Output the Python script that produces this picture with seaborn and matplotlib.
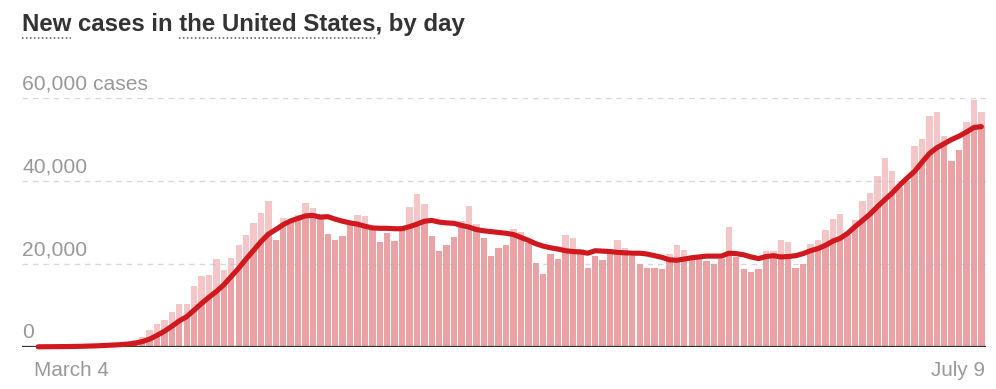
import numpy as np
import pandas as pd
import matplotlib
matplotlib.use("Agg")
import matplotlib.pyplot as plt
import matplotlib.transforms as mtransforms
from matplotlib.lines import Line2D
import seaborn as sns

# ---------------- data ----------------
x_labels = ["March 4", "July 9"]
new_cases = [
    30, 60, 60, 100, 110, 170, 290, 370, 480, 580, 700, 900, 1000, 1600,
    2500, 4000, 5550, 6500, 8500, 10450, 10450, 14700, 17000, 17350, 21100, 18600,
    21500, 24500, 27100, 29800, 32400, 35200, 25700, 31000, 30200, 31800, 34800, 33500,
    30800, 27200, 25800, 26750, 29600, 31700, 31600, 28350, 25400, 27400, 25550, 28200,
    33800, 36900, 34450, 26750, 23200, 24650, 26600, 30400, 34050, 29550, 26200, 21900,
    23800, 24600, 28500, 27700, 25000, 20300, 17600, 22300, 21100, 27000, 26300, 23600,
    19000, 21850, 21000, 23500, 25800, 23800, 21900, 20000, 19100, 18950, 18800, 22500,
    24600, 23400, 21350, 21600, 20800, 20000, 21300, 28800, 21800, 18700, 18150, 18800,
    23150, 23200, 25700, 25300, 19100, 20000, 24900, 25700, 28100, 30850, 32050, 27000,
    30500, 35100, 37100, 41300, 45500, 42400, 38500, 40000, 48400, 50100, 55700, 56700,
    50800, 44800, 47400, 54200, 59600, 56600,
]
avg_7day = [
    50, 60, 70, 90, 110, 140, 180, 230, 290, 370, 460, 560, 700, 900,
    1300, 1900, 2800, 3800, 5000, 6300, 7300, 8900, 10500, 12000, 13400, 15000,
    17000, 19000, 21200, 23300, 25400, 27200, 28300, 29500, 30400, 31000, 31600, 31700,
    31300, 31400, 30800, 30300, 29900, 29600, 29100, 28700, 28600, 28600, 28500, 28500,
    29000, 29600, 30300, 30500, 30100, 29900, 29800, 29300, 28900, 28300, 28000, 27800,
    27600, 27400, 27100, 26400, 25700, 24900, 24300, 23900, 23600, 23200, 23000, 22900,
    22600, 23200, 23100, 23000, 22800, 22700, 22600, 22600, 22400, 22000, 21600, 21000,
    20900, 21200, 21500, 21700, 21900, 21900, 21900, 22600, 22500, 22200, 21700, 21300,
    21800, 22000, 21700, 21800, 22000, 22500, 23200, 23700, 24500, 25500, 26200, 27400,
    29000, 30500, 32000, 33800, 35500, 37100, 39000, 40700, 42300, 44500, 46600, 48000,
    49000, 50000, 50800, 51800, 52900, 53100,
]
y_ticks = [0, 20000, 40000, 60000]
y_tick_labels = ["0", "20,000", "40,000", "60,000 cases"]
title_parts = ["New", " cases in ", "the United States", ", by day"]
underlined = [True, False, True, False]

assert len(new_cases) == len(avg_7day) == 128
n = len(new_cases)
df = pd.DataFrame({"day": np.arange(n), "cases": new_cases, "avg": avg_7day})

# ---------------- style ----------------
LIGHT = "#f5c6c8"
DARK = "#eaa2a5"
RED = "#d0191f"
GREY_TXT = "#999999"
TITLE_C = "#333333"

sns.set_theme(style="white")
plt.rcParams["font.family"] = ["Liberation Sans", "DejaVu Sans"]

W, H = 996, 389
fig = plt.figure(figsize=(W / 100, H / 100), dpi=100)
fig.patch.set_facecolor("white")
ax = fig.add_axes([22 / W, (H - 347) / H, 963.5 / W, 249 / H])
ax.set_facecolor("white")

# light full bars
sns.barplot(data=df, x="day", y="cases", color=LIGHT, saturation=1, width=0.86,
            linewidth=0, errorbar=None, ax=ax)
n_light = len(ax.patches)
# darker bars, clipped to the area under the 7-day average
sns.barplot(data=df, x="day", y="cases", color=DARK, saturation=1, width=0.86,
            linewidth=0, errorbar=None, ax=ax)
dark_patches = ax.patches[n_light:]
xs = np.concatenate([[-0.5], df["day"].values, [n - 0.5]])
ys = np.concatenate([[avg_7day[0]], df["avg"].values, [avg_7day[-1]]])
area = ax.fill_between(xs, 0, ys, color="none", linewidth=0)
clip_path = area.get_paths()[0]
for p in dark_patches:
    p.set_clip_path(clip_path, ax.transData)

# gridlines (drawn above bars, light)
for v in y_ticks[1:]:
    ax.axhline(v, color="#b8b8b8", alpha=0.55, lw=1.0, ls=(0, (4, 3.5)), zorder=3)

# baseline
ax.axhline(0, color="#333333", lw=1.6, zorder=4)

# 7-day average line
sns.lineplot(data=df, x="day", y="avg", color=RED, linewidth=3.7, ax=ax, zorder=5)
ln = ax.lines[-1]
ln.set_solid_capstyle("round")
ln.set_solid_joinstyle("round")
ln.set_clip_on(False)

ax.set_xlim(-2.18, 127.56)
ax.set_ylim(0, 60000)
ax.set_xticks([])
ax.set_yticks([])
ax.set_xlabel("")
ax.set_ylabel("")
for s in ax.spines.values():
    s.set_visible(False)

# y labels above gridlines
blend = mtransforms.blended_transform_factory(ax.transAxes, ax.transData)
ylab_tr = mtransforms.offset_copy(blend, fig=fig, x=0, y=8.5, units="dots")
for v, lab in zip(y_ticks, y_tick_labels):
    ax.text(0, v, lab, transform=ylab_tr, ha="left", va="baseline",
            fontsize=15.2, color=GREY_TXT, zorder=6)

# x labels
xlab_tr = mtransforms.offset_copy(ax.transData, fig=fig, x=0, y=-29, units="dots")
ax.text(-0.5, 0, x_labels[0], transform=xlab_tr, ha="left", va="baseline",
        fontsize=14.9, color=GREY_TXT)
ax.text(n - 0.5, 0, x_labels[1], transform=xlab_tr, ha="right", va="baseline",
        fontsize=14.9, color=GREY_TXT)

# title with dotted underlines
title_x = 22 / W
title_y = (H - 31) / H
title_kw = dict(fontsize=17.3, fontweight="bold", color=TITLE_C, va="baseline", ha="left")
full = "".join(title_parts)
fig.text(title_x, title_y, full, **title_kw)
renderer = fig.canvas.get_renderer()


def text_width_px(s):
    if not s:
        return 0.0
    t = fig.text(0, 0, s, **title_kw)
    w = t.get_window_extent(renderer).width
    t.remove()
    return w


prefix = ""
for part, ul in zip(title_parts, underlined):
    if ul:
        x0 = 22 + text_width_px(prefix)
        x1 = 22 + text_width_px(prefix + part)
        yy = (H - 37.5) / H
        fig.add_artist(Line2D([x0 / W, x1 / W], [yy, yy], transform=fig.transFigure,
                              color="#555555", lw=1.1, ls=(0, (1, 1.6))))
    prefix += part

fig.savefig("out.png", dpi=100, facecolor="white")
